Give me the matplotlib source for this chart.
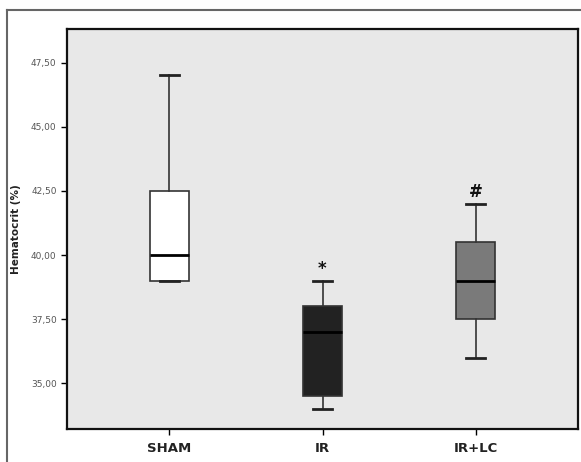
import matplotlib
matplotlib.use("Agg")
from matplotlib import pyplot as plt
from matplotlib.lines import Line2D
from matplotlib.ticker import FuncFormatter

# Group summaries
groups = ["SHAM", "IR", "IR+LC"]
whisker_low = [39.0, 34.0, 36.0]
q1 = [39.0, 34.5, 37.5]
medians = [40.0, 37.0, 39.0]
q3 = [42.5, 38.0, 40.5]
whisker_high = [47.0, 39.0, 42.0]
box_colors = ["#ffffff", "#222222", "#7a7a7a"]
marks = ["", "*", "#"]
yticks = [35.0, 37.5, 40.0, 42.5, 45.0, 47.5]

stats = []
for i, g in enumerate(groups):
    stats.append({"label": g, "whislo": whisker_low[i], "q1": q1[i], "med": medians[i],
                  "q3": q3[i], "whishi": whisker_high[i], "fliers": []})

fig = plt.figure(figsize=(5.81, 4.62), dpi=100)
W, H = 581, 462
ax = fig.add_axes([67 / W, 1 - 429 / H, (578 - 67) / W, (429 - 29) / H])
ax.set_facecolor("#e8e8e8")

bp = ax.bxp(stats, positions=[1, 2, 3], widths=0.255, capwidths=0.125,
            patch_artist=True, showfliers=False,
            boxprops=dict(edgecolor="#333333", linewidth=1.2),
            medianprops=dict(color="black", linewidth=2.0),
            whiskerprops=dict(color="#333333", linewidth=1.2),
            capprops=dict(color="#222222", linewidth=2.0))
for patch, c in zip(bp["boxes"], box_colors):
    patch.set_facecolor(c)

for i, m in enumerate(marks):
    if m:
        ax.text(i + 1, whisker_high[i] + 0.12, m, ha="center", va="bottom",
                fontsize=12, fontweight="bold", color="#111111")

ax.set_xlim(0.333, 3.667)
ax.set_ylim(33.22, 48.81)
ax.set_yticks(yticks)
ax.yaxis.set_major_formatter(FuncFormatter(lambda v, p: f"{v:.2f}".replace(".", ",")))
ax.set_xticks([1, 2, 3])
ax.set_xticklabels(groups, fontsize=9.5, fontweight="bold", color="#222222")
ax.tick_params(axis="y", labelsize=6.5, labelcolor="#555555", length=4, width=1, direction="out")
ax.tick_params(axis="x", length=4, width=1, direction="out", pad=5)
ax.set_ylabel("Hematocrit (%)", fontsize=7.5, fontweight="bold", color="#222222", labelpad=7)
for s in ax.spines.values():
    s.set_linewidth(1.6)
    s.set_color("#111111")

# Outer frame around the figure
fig.add_artist(Line2D([7 / W, 7 / W], [0, 1 - 10 / H], color="#666666", linewidth=1.5))
fig.add_artist(Line2D([7 / W, 1], [1 - 10 / H, 1 - 10 / H], color="#666666", linewidth=1.5))

fig.savefig("out.png", dpi=100)
